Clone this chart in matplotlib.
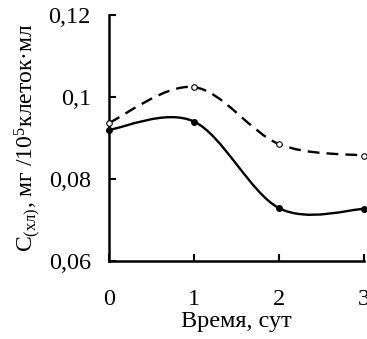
import numpy as np
import matplotlib
matplotlib.use("Agg")
import matplotlib.pyplot as plt
from matplotlib.path import Path
from matplotlib.patches import PathPatch

plt.rcParams['font.family'] = ['Liberation Serif', 'DejaVu Serif']
plt.rcParams['mathtext.fontset'] = 'custom'
plt.rcParams['mathtext.rm'] = 'Liberation Serif'
plt.rcParams['mathtext.it'] = 'Liberation Serif:italic'

# data
days = [0, 1, 2, 3]
dashed_vals = [0.0937, 0.1024, 0.0885, 0.0857]
solid_vals = [0.0920, 0.0940, 0.0729, 0.0727]


def smooth_path(xs, ys):
    # Excel-like smoothed line drawn as cubic Bezier segments
    p = np.column_stack([xs, ys]).astype(float)
    ext = np.vstack([p[0], p, p[-1]])
    verts = [p[0]]
    codes = [Path.MOVETO]
    for i in range(len(p) - 1):
        p0, p1, p2, p3 = ext[i], ext[i + 1], ext[i + 2], ext[i + 3]
        c1 = p1 + (p2 - p0) / 6.0
        c2 = p2 - (p3 - p1) / 6.0
        verts += [c1, c2, p2]
        codes += [Path.CURVE4] * 3
    return Path(verts, codes)


fig = plt.figure(figsize=(3.67, 3.39), dpi=100)
ax = fig.add_axes([0.297, 0.230, 0.695, 0.726])

ax.add_patch(PathPatch(smooth_path(days, dashed_vals), fill=False, color='black',
                       lw=1.7, ls=(0, (5, 3)), clip_on=False))
ax.add_patch(PathPatch(smooth_path(days, solid_vals), fill=False, color='black',
                       lw=1.7, clip_on=False))
ax.plot(days, dashed_vals, 'o', ms=4, mfc='white', mec='black', mew=0.8, clip_on=False, zorder=5)
ax.plot(days, solid_vals, 'o', ms=4, mfc='black', mec='black', clip_on=False, zorder=5)

ax.set_xlim(0, 3)
ax.set_ylim(0.06, 0.12)
ax.set_xticks(days)
ax.set_yticks([0.06, 0.08, 0.1, 0.12])
ax.set_yticklabels(['0,06', '0,08', '0,1', '0,12'])

for s in ['top', 'right']:
    ax.spines[s].set_visible(False)
for s in ['left', 'bottom']:
    ax.spines[s].set_linewidth(1.8)

ax.tick_params(axis='both', direction='in', length=5, width=1.5, labelsize=17.5)
ax.tick_params(axis='x', pad=20)
ax.tick_params(axis='y', pad=13)

ax.set_xlabel('Время, сут', fontsize=17.5, labelpad=1)
ax.set_ylabel('C$_{\\mathregular{(хл)}}$, мг /10$^{\\mathregular{5}}$клеток·мл', fontsize=17, labelpad=4)

fig.savefig('out.png', dpi=100)
